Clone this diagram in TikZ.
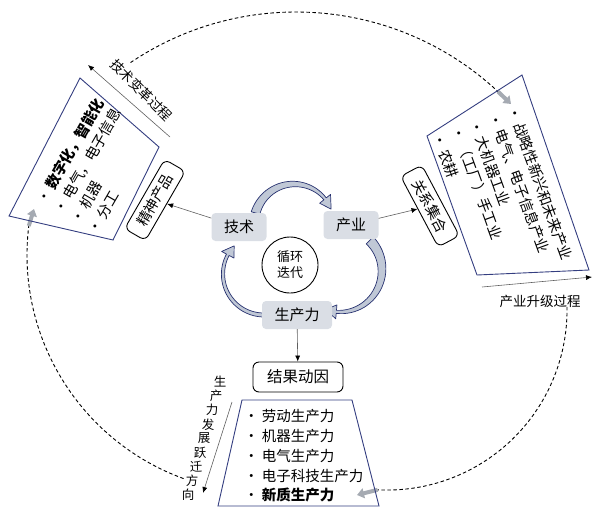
\documentclass[tikz,border=0pt]{standalone}
\usepackage{fontspec}
\setmainfont{Noto Sans CJK SC}
\usetikzlibrary{arrows.meta}

\definecolor{boxblue}{RGB}{52,62,128}
\definecolor{cellgray}{RGB}{218,222,229}
\definecolor{arcfill}{RGB}{192,200,214}
\definecolor{arcline}{RGB}{40,50,112}
\definecolor{markgray}{RGB}{165,170,178}
\definecolor{linkgray}{RGB}{95,95,95}

\tikzset{
  cell/.style={fill=cellgray, rounded corners=4pt, minimum width=55pt, minimum height=28pt, inner sep=2pt, font=\fontsize{15}{18}\selectfont},
  tag/.style={draw, line width=0.9pt, rounded corners=6pt, minimum width=80pt, minimum height=24pt, inner sep=2pt, font=\fontsize{14.5}{17}\selectfont},
  hub/.style={draw, circle, line width=0.9pt, minimum size=56pt, inner sep=0pt, align=center, font=\fontsize{13}{16}\selectfont},
  listbox/.style={draw=boxblue, line width=0.9pt},
  listtext/.style={align=left, inner sep=0pt, font=\fontsize{14.5}{19.8}\selectfont},
  link/.style={draw=linkgray, line width=0.6pt, -{Latex[length=6pt, width=5pt, color=black]}},
  note/.style={inner sep=0pt, font=\fontsize{13.5}{16}\selectfont},
  loopline/.style={line width=0.9pt, dash pattern=on 3.5pt off 2.5pt},
  marker/.style={draw=markgray, line width=4pt, -{Triangle[length=7pt, width=10pt]}},
  cyclearr/.style={fill=arcfill, draw=arcline, line width=0.7pt, line join=round}
}

% curved block arrow: centre, radius, start angle, end angle, start width, end width, head length
\newcommand{\cyclearrow}[7]{%
  \filldraw[cyclearr, shift={#1}]
    plot[domain=#3:#4, samples=30, variable=\t] (\t:{#2+0.5*(#5+(#6-#5)*(\t-(#3))/((#4)-(#3)))})
    -- (#4:{#2+7}) -- ({#4-#7*57.3/#2}:#2) -- (#4:{#2-7})
    -- plot[domain=#4:#3, samples=30, variable=\t] (\t:{#2-0.5*(#5+(#6-#5)*(\t-(#3))/((#4)-(#3)))})
    -- cycle;}

\begin{document}
\begin{tikzpicture}[x=1pt, y=1pt]
    \useasboundingbox (0,0) rectangle (595,-523);

    % outer dashed cycle
    \coordinate (topstart) at (130.5,-62.6);
    \coordinate (toptip) at (511,-104);
    \draw[loopline] (topstart) arc[start angle=124, end angle=47, radius=296pt] coordinate (topend);
    \draw[marker] (topend) -- (toptip);

    \coordinate (rightstart) at (567,-306.9);
    \coordinate (righttip) at (357,-495);
    \draw[loopline] (rightstart) arc[start angle=1, end angle=-93, radius=180pt] coordinate (rightend);
    \draw[marker] (rightend) -- (righttip);

    \coordinate (leftstart) at (183.6,-478.6);
    \coordinate (lefttip) at (34,-209);
    \draw[loopline] (leftstart) arc[start angle=250, end angle=173, radius=238pt] coordinate (leftend);
    \draw[marker] (leftend) -- (lefttip);

    % three lists
    \draw[listbox] (80,-78) -- (159,-147) -- (113,-240) -- (9,-216) -- cycle;
    \node[listtext, rotate=60, anchor=west] (techlist) at (66,-218)
        {\textbullet\ \textbf{数字化，智能化}\\ \textbullet\ 电气，电子信息\\ \textbullet\ 机器\\ \textbullet\ 分工};

    \draw[listbox] (522,-75) -- (589,-270) -- (477,-275) -- (427,-136) -- cycle;
    \node[listtext, rotate=-70, anchor=west] (induslist) at (475,-120)
        {\textbullet\ 战略性新兴和未来产业\\ \textbullet\ 电气、电子信息产业\\ \textbullet\ 大机器工业\\ \textbullet\ （工厂）手工业\\ \textbullet\ 农耕};

    \draw[listbox] (242,-400) -- (352,-400) -- (379,-506) -- (218,-506) -- cycle;
    \node[listtext, anchor=west] (prodlist) at (244,-456)
        {\textbullet\ 劳动生产力\\ \textbullet\ 机器生产力\\ \textbullet\ 电气生产力\\ \textbullet\ 电子科技生产力\\ \textbullet\ \textbf{新质生产力}};

    % inner cycle
    \cyclearrow{(294,-224)}{40}{164}{39}{9}{3}{12}
    \cyclearrow{(340,-270)}{42}{45}{-95}{10}{3}{11}
    \cyclearrow{(264,-274)}{41}{268}{152}{4}{3}{11}

    \node[cell] (tech) at (239,-227) {技术};
    \node[cell] (indus) at (351,-225) {产业};
    \node[cell, minimum width=70pt] (prod) at (297,-315) {生产力};
    \node[hub] (loop) at (290,-265) {循环\\迭代};

    \node[tag, rotate=60] (spirit) at (155,-200) {精神产品};
    \node[tag, rotate=-62] (rel) at (430,-206) {关系集合};
    \node[tag, minimum width=90pt, minimum height=30pt, font=\fontsize{15.5}{18}\selectfont] (result) at (298,-377) {结果动因};

    \draw[link] (tech) -- (spirit);
    \draw[link] (indus) -- (rel);
    \draw[link] (prod) -- (result);

    % process labels
    \coordinate (techfrom) at (170,-137);
    \coordinate (techto) at (88,-65);
    \draw[link] (techfrom) -- (techto);
    \node[note, rotate=-45] (techlabel) at (141.5,-90) {技术变革过程};

    \coordinate (indusfrom) at (482,-287);
    \coordinate (industo) at (592,-277);
    \draw[link] (indusfrom) -- (industo);
    \node[note] (induslabel) at (540,-301) {产业升级过程};

    \coordinate (prodfrom) at (232,-402);
    \coordinate (prodto) at (203,-493);
    \draw[link] (prodfrom) -- (prodto);
    \foreach \ch [count=\i from 0] in {生,产,力,发,展,跃,迁,方,向}
        \node[note, font=\fontsize{12.5}{14}\selectfont] (dir\i) at ({220-4*\i},{-382-14.1*\i}) {\ch};
\end{tikzpicture}
\end{document}
